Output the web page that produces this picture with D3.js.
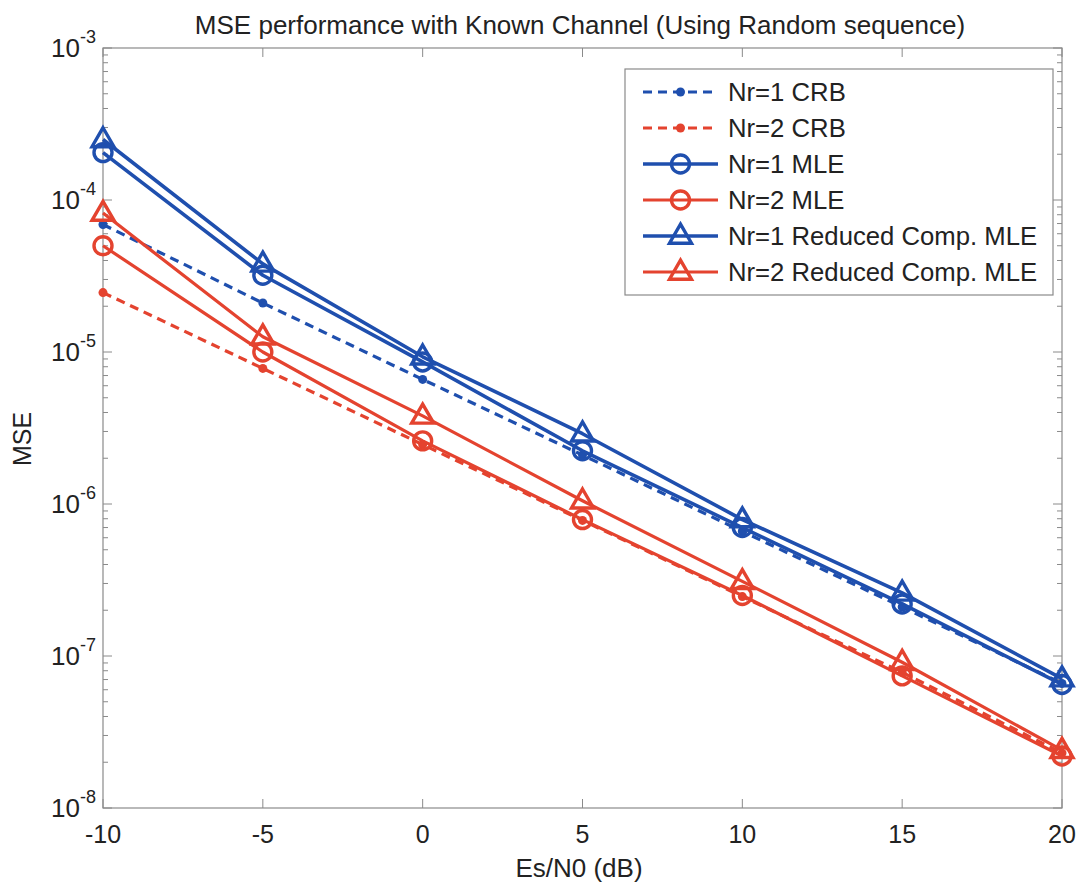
<!DOCTYPE html>
<html>
<head>
<meta charset="utf-8">
<script src="https://cdn.jsdelivr.net/npm/d3@7"></script>
<style>
  html, body { margin: 0; padding: 0; background: #ffffff; }
  svg { display: block; font-family: "Liberation Sans", Arial, sans-serif; }
</style>
</head>
<body>
<svg id="chart" width="1080" height="889"></svg>
<script>
// Es/N0 values (dB)
const snr = [-10, -5, 0, 5, 10, 15, 20];

// MSE per curve
const crbNr1 = [6.9e-5, 2.1e-5, 6.6e-6, 2.1e-6, 6.6e-7, 2.1e-7, 6.6e-8];
const crbNr2 = [2.46e-5, 7.8e-6, 2.46e-6, 7.8e-7, 2.46e-7, 7.8e-8, 2.3e-8];
const mleNr1 = [2.05e-4, 3.2e-5, 8.6e-6, 2.24e-6, 7.0e-7, 2.2e-7, 6.5e-8];
const mleNr2 = [5.0e-5, 1.0e-5, 2.6e-6, 7.9e-7, 2.5e-7, 7.4e-8, 2.2e-8];
const redNr1 = [2.5e-4, 3.8e-5, 9.3e-6, 2.9e-6, 7.9e-7, 2.6e-7, 7.1e-8];
const redNr2 = [8.2e-5, 1.26e-5, 3.8e-6, 1.05e-6, 3.1e-7, 9.1e-8, 2.4e-8];

const seriesNames = ["Nr=1 CRB", "Nr=2 CRB", "Nr=1 MLE", "Nr=2 MLE",
                     "Nr=1 Reduced Comp. MLE", "Nr=2 Reduced Comp. MLE"];

const xTicks = [-10, -5, 0, 5, 10, 15, 20];
const yExponents = [-3, -4, -5, -6, -7, -8];

const titleText = "MSE performance with Known Channel (Using Random sequence)";
const xLabelText = "Es/N0 (dB)";
const yLabelText = "MSE";

const BLUE = "#1f4fae";
const RED = "#e4432f";

const series = [
  { name: seriesNames[0], values: crbNr1, color: BLUE, dash: "9,6", marker: "dot", width: 3.2 },
  { name: seriesNames[1], values: crbNr2, color: RED, dash: "9,6", marker: "dot", width: 3.2 },
  { name: seriesNames[2], values: mleNr1, color: BLUE, dash: null, marker: "circle", width: 3.6 },
  { name: seriesNames[3], values: mleNr2, color: RED, dash: null, marker: "circle", width: 3.2 },
  { name: seriesNames[4], values: redNr1, color: BLUE, dash: null, marker: "triangle", width: 3.6 },
  { name: seriesNames[5], values: redNr2, color: RED, dash: null, marker: "triangle", width: 3.2 }
];

const svg = d3.select("#chart");
const plot = { left: 103, right: 1062, top: 48, bottom: 808 };

const x = d3.scaleLinear().domain([-10, 20]).range([plot.left, plot.right]);
const y = d3.scaleLog().domain([1e-8, 1e-3]).range([plot.bottom, plot.top]);

const axisColor = "#8a8a8a";
const textColor = "#222222";

// plot frame
svg.append("rect")
  .attr("x", plot.left).attr("y", plot.top)
  .attr("width", plot.right - plot.left).attr("height", plot.bottom - plot.top)
  .attr("fill", "none").attr("stroke", axisColor).attr("stroke-width", 1.2);

// log-scale ticks on left and right edges
const minorVals = [];
for (let e = -8; e < -3; e++) {
  for (let m = 2; m <= 9; m++) minorVals.push(m * Math.pow(10, e));
}
const majorVals = yExponents.map(e => Math.pow(10, e));

const tickG = svg.append("g").attr("stroke", axisColor).attr("stroke-width", 1);
minorVals.forEach(v => {
  tickG.append("line").attr("x1", plot.left).attr("x2", plot.left + 5).attr("y1", y(v)).attr("y2", y(v));
  tickG.append("line").attr("x1", plot.right).attr("x2", plot.right - 5).attr("y1", y(v)).attr("y2", y(v));
});
majorVals.forEach(v => {
  tickG.append("line").attr("x1", plot.left).attr("x2", plot.left + 9).attr("y1", y(v)).attr("y2", y(v));
  tickG.append("line").attr("x1", plot.right).attr("x2", plot.right - 9).attr("y1", y(v)).attr("y2", y(v));
});
xTicks.forEach(t => {
  tickG.append("line").attr("x1", x(t)).attr("x2", x(t)).attr("y1", plot.bottom).attr("y2", plot.bottom - 9);
  tickG.append("line").attr("x1", x(t)).attr("x2", x(t)).attr("y1", plot.top).attr("y2", plot.top + 9);
});

// y tick labels: 10 with superscript exponent
yExponents.forEach(e => {
  const t = svg.append("text")
    .attr("x", 96).attr("y", y(Math.pow(10, e)) + 9)
    .attr("text-anchor", "end")
    .attr("font-size", 26).attr("fill", textColor);
  t.append("tspan").text("10");
  t.append("tspan").attr("dy", -14).attr("font-size", 18).text(String(e));
});

// x tick labels
xTicks.forEach(t => {
  svg.append("text")
    .attr("x", x(t)).attr("y", 843)
    .attr("text-anchor", "middle")
    .attr("font-size", 25).attr("fill", textColor)
    .text(String(t));
});

// title and axis labels
svg.append("text").attr("x", 580).attr("y", 34).attr("text-anchor", "middle")
  .attr("font-size", 26).attr("fill", textColor).text(titleText);
svg.append("text").attr("x", 579).attr("y", 877).attr("text-anchor", "middle")
  .attr("font-size", 26).attr("fill", textColor).text(xLabelText);
svg.append("text").attr("transform", "translate(31,439) rotate(-90)").attr("text-anchor", "middle")
  .attr("font-size", 25).attr("fill", textColor).text(yLabelText);

// marker drawing helper
function drawMarker(g, cx, cy, s) {
  if (s.marker === "dot") {
    g.append("circle").attr("cx", cx).attr("cy", cy).attr("r", 4.5).attr("fill", s.color);
  } else if (s.marker === "circle") {
    g.append("circle").attr("cx", cx).attr("cy", cy).attr("r", 9)
      .attr("fill", "none").attr("stroke", s.color).attr("stroke-width", 3.4);
  } else {
    const h = 19, w = 22;
    g.append("path")
      .attr("d", `M${cx},${cy - h * 0.62} L${cx + w / 2},${cy + h * 0.38} L${cx - w / 2},${cy + h * 0.38} Z`)
      .attr("fill", "none").attr("stroke", s.color).attr("stroke-width", 3.4).attr("stroke-linejoin", "miter");
  }
}

const line = d3.line().x(d => x(d[0])).y(d => y(d[1]));
const dataG = svg.append("g");
series.forEach(s => {
  const pts = snr.map((v, i) => [v, s.values[i]]);
  dataG.append("path").datum(pts)
    .attr("d", line)
    .attr("fill", "none").attr("stroke", s.color)
    .attr("stroke-width", s.width)
    .attr("stroke-dasharray", s.dash)
    .attr("stroke-linejoin", "round");
  pts.forEach(p => drawMarker(dataG, x(p[0]), y(p[1]), s));
});

// legend
const leg = { x: 625, y: 69, w: 428, h: 226, row0: 92, step: 36 };
svg.append("rect").attr("x", leg.x).attr("y", leg.y).attr("width", leg.w).attr("height", leg.h)
  .attr("fill", "#ffffff").attr("stroke", axisColor).attr("stroke-width", 1.2);
series.forEach((s, i) => {
  const ry = leg.row0 + i * leg.step;
  const g = svg.append("g");
  g.append("line").attr("x1", 643).attr("x2", 718).attr("y1", ry).attr("y2", ry)
    .attr("stroke", s.color).attr("stroke-width", s.width).attr("stroke-dasharray", s.dash);
  drawMarker(g, 680.5, ry, s);
  g.append("text").attr("x", 728).attr("y", ry + 9)
    .attr("font-size", 25.7).attr("fill", textColor).text(s.name);
});
</script>
</body>
</html>
